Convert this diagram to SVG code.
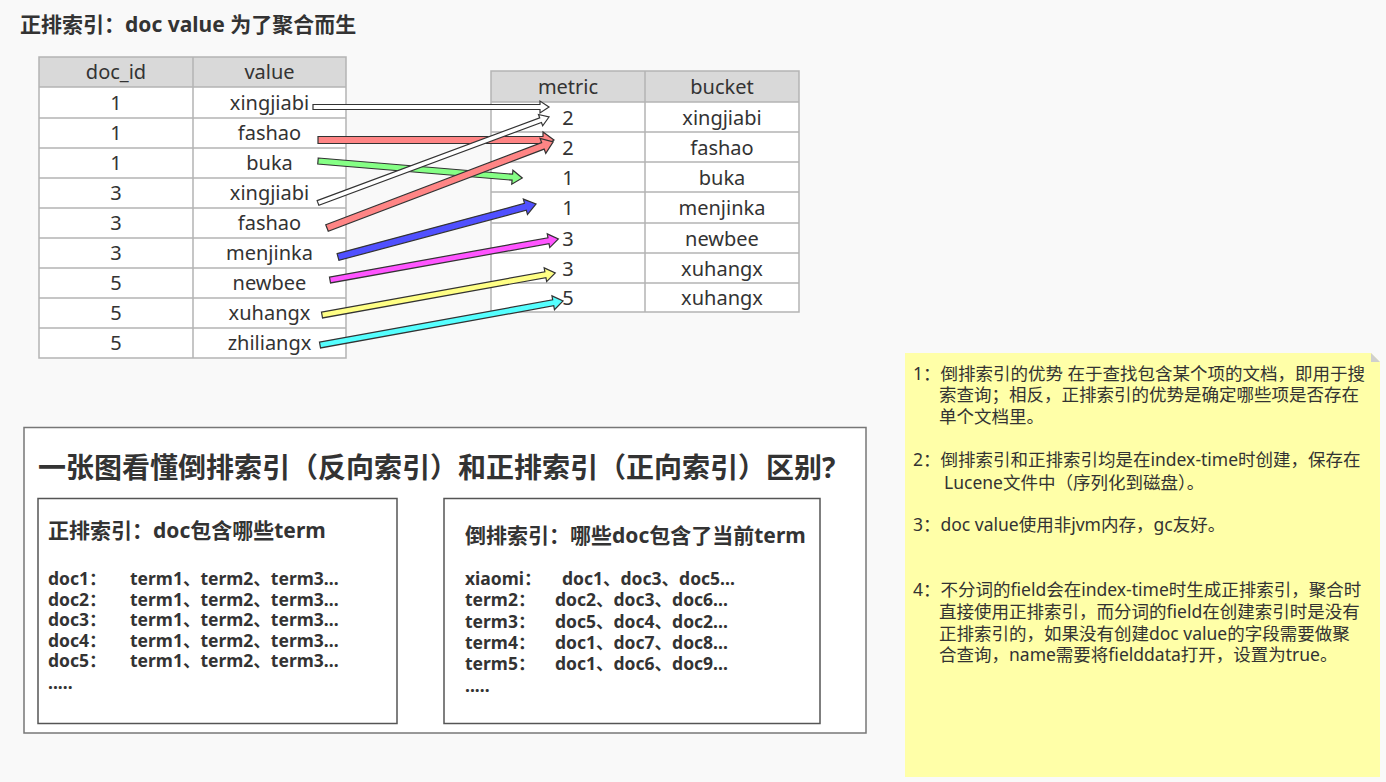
<svg xmlns="http://www.w3.org/2000/svg" width="1386" height="782" viewBox="0 0 1386 782">
<style>
text{font-family:"Noto Sans","Noto Sans CJK SC",sans-serif;fill:#333}
.t{font-size:20px;text-anchor:middle}
.b{font-weight:bold}
.hd{fill:#d9d9d9}
.grid{stroke:#b4b4b4;stroke-width:1.5;fill:none}
.arr{stroke:#333;stroke-width:1.2;stroke-linejoin:miter}
.note{font-size:17.5px}
.ln{font-size:17.5px;font-weight:bold}
</style>
<rect width="1386" height="782" fill="#f9f9f9"/>
<text x="20" y="31.5" font-size="21" class="b">正排索引：doc value 为了聚合而生</text>

<g id="left-table">
<rect x="39" y="57" width="307" height="301" fill="#fff"/>
<rect x="39" y="57" width="307" height="30" class="hd"/>
<path class="grid" d="M39,57H346V358H39Z M193,57V358 M39,87H346 M39,118H346 M39,148H346 M39,178H346 M39,208H346 M39,238H346 M39,268H346 M39,298H346 M39,328H346"/>
<text class="t" x="116" y="79">doc_id</text><text class="t" x="269.5" y="79">value</text>
<text class="t" x="116" y="110">1</text><text class="t" x="269.5" y="110">xingjiabi</text>
<text class="t" x="116" y="140">1</text><text class="t" x="269.5" y="140">fashao</text>
<text class="t" x="116" y="170">1</text><text class="t" x="269.5" y="170">buka</text>
<text class="t" x="116" y="200">3</text><text class="t" x="269.5" y="200">xingjiabi</text>
<text class="t" x="116" y="230">3</text><text class="t" x="269.5" y="230">fashao</text>
<text class="t" x="116" y="260">3</text><text class="t" x="269.5" y="260">menjinka</text>
<text class="t" x="116" y="290">5</text><text class="t" x="269.5" y="290">newbee</text>
<text class="t" x="116" y="320">5</text><text class="t" x="269.5" y="320">xuhangx</text>
<text class="t" x="116" y="350">5</text><text class="t" x="269.5" y="350">zhiliangx</text>
</g>

<g id="right-table">
<rect x="491" y="71" width="308" height="241" fill="#fff"/>
<rect x="491" y="71" width="308" height="31" class="hd"/>
<path class="grid" d="M491,71H799V312H491Z M645,71V312 M491,102H799 M491,132H799 M491,162H799 M491,192H799 M491,223H799 M491,253H799 M491,283H799"/>
<text class="t" x="568" y="94">metric</text><text class="t" x="722" y="94">bucket</text>
<text class="t" x="568" y="125">2</text><text class="t" x="722" y="125">xingjiabi</text>
<text class="t" x="568" y="155">2</text><text class="t" x="722" y="155">fashao</text>
<text class="t" x="568" y="185">1</text><text class="t" x="722" y="185">buka</text>
<text class="t" x="568" y="215">1</text><text class="t" x="722" y="215">menjinka</text>
<text class="t" x="568" y="246">3</text><text class="t" x="722" y="246">newbee</text>
<text class="t" x="568" y="276">3</text><text class="t" x="722" y="276">xuhangx</text>
<text class="t" x="568" y="305">5</text><text class="t" x="722" y="305">xuhangx</text>
</g>

<g id="connectors">
<path class="arr" fill="#fff" transform="translate(313,107)" d="M0,-2.5L227,-2.5L227,-6L236,0L227,6L227,2.5L0,2.5Z"/>
<path class="arr" fill="#ff8585" transform="translate(318,140)" d="M0,-3.5L225,-3.5L225,-8L236,0L225,8L225,3.5L0,3.5Z"/>
<path class="arr" fill="#85ff85" transform="translate(318,161) rotate(4.76)" d="M0,-3L195,-3L195,-7L205,0L195,7L195,3L0,3Z"/>
<path class="arr" fill="#fff" transform="translate(318,203) rotate(-20.42)" d="M0,-2.5L237.5,-2.5L237.5,-6L246.5,0L237.5,6L237.5,2.5L0,2.5Z"/>
<path class="arr" fill="#ff8585" transform="translate(327,228) rotate(-20.83)" d="M0,-3.5L231,-3.5L231,-8L242,0L231,8L231,3.5L0,3.5Z"/>
<path class="arr" fill="#5050ff" transform="translate(338,257) rotate(-14.99)" d="M0,-3.5L194,-3.5L194,-8L205,0L194,8L194,3.5L0,3.5Z"/>
<path class="arr" fill="#ff55ff" transform="translate(330,280) rotate(-10.19)" d="M0,-3L222,-3L222,-7L232,0L222,7L222,3L0,3Z"/>
<path class="arr" fill="#ffff85" transform="translate(322,315) rotate(-10.22)" d="M0,-3L227,-3L227,-7L237,0L227,7L227,3L0,3Z"/>
<path class="arr" fill="#55ffff" transform="translate(320,345) rotate(-10.26)" d="M0,-3L237,-3L237,-7L247,0L237,7L237,3L0,3Z"/>
</g>

<g id="compare-box">
<rect x="24" y="427.5" width="842" height="305.5" fill="#fff" stroke="#777" stroke-width="1.5"/>
<text x="38" y="478" font-size="28" class="b">一张图看懂倒排索引（反向索引）和正排索引（正向索引）区别?</text>
</g>

<g id="forward-box">
<rect x="38" y="498.5" width="359" height="225" fill="#fff" stroke="#555" stroke-width="1.5"/>
<text x="48" y="537.5" font-size="21" class="b">正排索引：doc包含哪些term</text>
<text class="ln" x="48" y="585">doc1：</text><text class="ln" x="130" y="585">term1、term2、term3...</text>
<text class="ln" x="48" y="605.5">doc2：</text><text class="ln" x="130" y="605.5">term1、term2、term3...</text>
<text class="ln" x="48" y="626">doc3：</text><text class="ln" x="130" y="626">term1、term2、term3...</text>
<text class="ln" x="48" y="646.5">doc4：</text><text class="ln" x="130" y="646.5">term1、term2、term3...</text>
<text class="ln" x="48" y="667">doc5：</text><text class="ln" x="130" y="667">term1、term2、term3...</text>
<text class="ln" x="48" y="689">.....</text>
</g>

<g id="inverted-box">
<rect x="444" y="498.5" width="376" height="225" fill="#fff" stroke="#555" stroke-width="1.5"/>
<text x="465" y="542.5" font-size="21" class="b">倒排索引：哪些doc包含了当前term</text>
<text class="ln" x="465" y="585">xiaomi：</text><text class="ln" x="562" y="585">doc1、doc3、doc5...</text>
<text class="ln" x="465" y="606">term2：</text><text class="ln" x="555" y="606">doc2、doc3、doc6...</text>
<text class="ln" x="465" y="627.5">term3：</text><text class="ln" x="555" y="627.5">doc5、doc4、doc2...</text>
<text class="ln" x="465" y="648.5">term4：</text><text class="ln" x="555" y="648.5">doc1、doc7、doc8...</text>
<text class="ln" x="465" y="670">term5：</text><text class="ln" x="555" y="670">doc1、doc6、doc9...</text>
<text class="ln" x="465" y="692">.....</text>
</g>

<g id="note">
<path d="M905,353H1371L1380,362V777H905Z" fill="#ffffa8"/>
<path d="M1371,353L1380,362H1371Z" fill="#cfcfcf"/>
<text class="note" x="913" y="380">1：倒排索引的优势 在于查找包含某个项的文档，即用于搜</text>
<text class="note" x="939" y="401">索查询；相反，正排索引的优势是确定哪些项是否存在</text>
<text class="note" x="939" y="423">单个文档里。</text>
<text class="note" x="913" y="466">2：倒排索引和正排索引均是在index-time时创建，保存在</text>
<text class="note" x="944" y="489">Lucene文件中（序列化到磁盘）。</text>
<text class="note" x="913" y="531">3：doc value使用非jvm内存，gc友好。</text>
<text class="note" x="913" y="596">4：不分词的field会在index-time时生成正排索引，聚合时</text>
<text class="note" x="939" y="618">直接使用正排索引，而分词的field在创建索引时是没有</text>
<text class="note" x="939" y="640">正排索引的，如果没有创建doc value的字段需要做聚</text>
<text class="note" x="939" y="661">合查询，name需要将fielddata打开，设置为true。</text>
</g>
</svg>
